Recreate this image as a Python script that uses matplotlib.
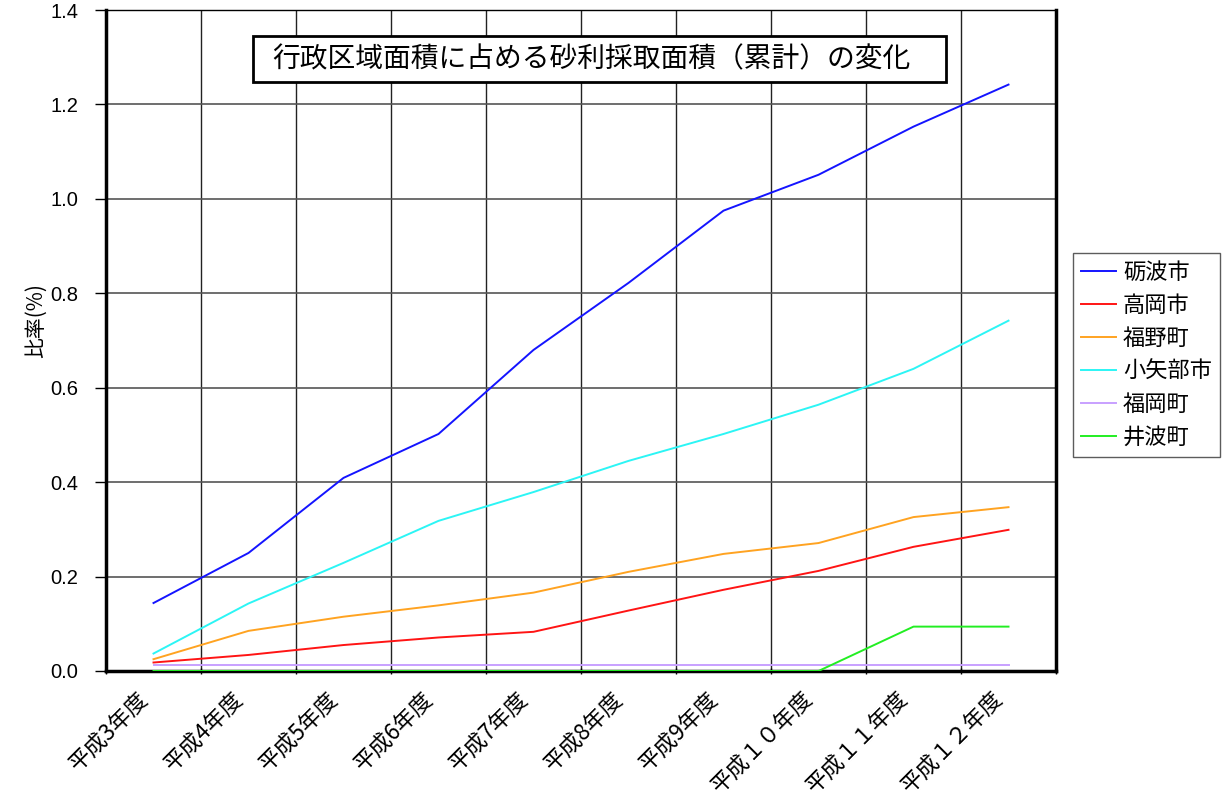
import matplotlib
matplotlib.use("Agg")
import matplotlib.pyplot as plt
from matplotlib.patches import Rectangle
import numpy as np

plt.rcParams['font.family'] = ['Noto Sans CJK JP', 'DejaVu Sans']

years = ['平成3年度', '平成4年度', '平成5年度', '平成6年度', '平成7年度',
         '平成8年度', '平成9年度', '平成１０年度', '平成１１年度', '平成１２年度']

tonami = [0.144, 0.250, 0.409, 0.502, 0.680, 0.822, 0.975, 1.051, 1.153, 1.242]
takaoka = [0.018, 0.034, 0.055, 0.071, 0.083, 0.128, 0.172, 0.212, 0.263, 0.299]
fukuno = [0.025, 0.085, 0.115, 0.139, 0.166, 0.210, 0.248, 0.271, 0.326, 0.347]
oyabe = [0.037, 0.143, 0.229, 0.318, 0.379, 0.445, 0.502, 0.564, 0.640, 0.742]
fukuoka = [0.013, 0.013, 0.013, 0.013, 0.013, 0.013, 0.013, 0.013, 0.013, 0.013]
inami = [0.0, 0.0, 0.0, 0.0, 0.0, 0.0, 0.0, 0.0, 0.094, 0.094]

series = [
    ('砺波市', tonami, '#1414ff'),
    ('高岡市', takaoka, '#ff1414'),
    ('福野町', fukuno, '#ffa321'),
    ('小矢部市', oyabe, '#2cf5f5'),
    ('福岡町', fukuoka, '#c8a0ff'),
    ('井波町', inami, '#22ee22'),
]

fig = plt.figure(figsize=(12.3, 8.09), dpi=100)
ax = fig.add_axes([106 / 1230, 1 - 671 / 809, 950 / 1230, 661 / 809])

x = np.arange(len(years))
for name, vals, col in series:
    ax.plot(x, vals, color=col, lw=1.4, label=name, zorder=3)

ax.set_xlim(-0.5, len(years) - 0.5)
ax.set_ylim(0, 1.4)

# grid: horizontal gray, vertical black at category boundaries
yt = np.arange(0, 1.41, 0.2)
ax.set_yticks(yt)
ax.set_yticklabels([f'{v:.1f}' for v in yt], family='Liberation Sans', fontsize=14.5)
ax.yaxis.grid(True, color='#555555', lw=1.2)
ax.set_xticks(x)
ax.set_xticklabels(years, rotation=45, ha='right', fontsize=16)
ax.tick_params(axis='x', which='major', length=0, pad=12)
ax.set_xticks(np.arange(-0.5, len(years), 1.0), minor=True)
ax.xaxis.grid(True, which='minor', color='#222222', lw=1.0)
ax.tick_params(axis='x', which='minor', length=5, direction='inout', width=1)
ax.tick_params(axis='y', length=8, width=1, direction='out', pad=12)
ax.set_axisbelow(True)

for side in ['left', 'bottom', 'right']:
    ax.spines[side].set_linewidth(2.5)
ax.spines['top'].set_linewidth(1.0)

ax.set_ylabel('比率(%)', fontsize=15)
ax.yaxis.set_label_coords(-0.062, 0.53)

# title box
ax.add_patch(Rectangle((0.1547, 0.891), 0.7295, 0.070, transform=ax.transAxes,
                       fc='white', ec='black', lw=2, zorder=5))
ax.text(0.511, 0.926, '行政区域面積に占める砂利採取面積（累計）の変化',
        transform=ax.transAxes, ha='center', va='center', fontsize=20, zorder=6)

leg = fig.legend(loc='upper left', bbox_to_anchor=(1073 / 1230, 1 - 253 / 809),
                 fontsize=16, fancybox=False, edgecolor='#333333',
                 handlelength=1.6, borderpad=0.35, labelspacing=0.45,
                 handletextpad=0.3, borderaxespad=0)
leg.get_frame().set_linewidth(1.0)

fig.savefig('out.png', dpi=100)
